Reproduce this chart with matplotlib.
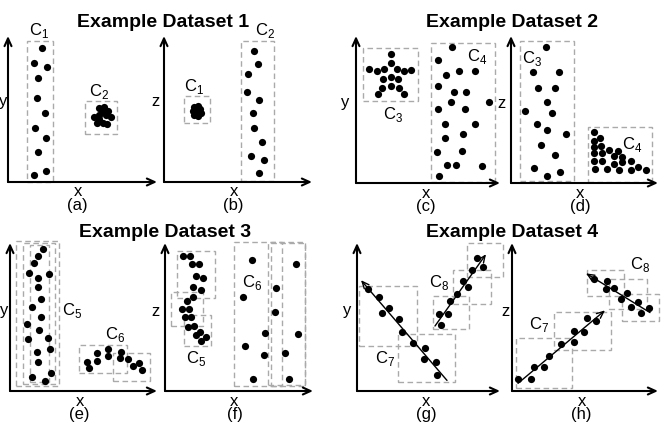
import numpy as np
import matplotlib.pyplot as plt
from matplotlib.patches import Rectangle

plt.rcParams['font.family'] = ['Liberation Sans', 'DejaVu Sans']
plt.rcParams['mathtext.fontset'] = 'custom'
plt.rcParams['mathtext.rm'] = 'Liberation Sans'

W, H = 663, 426

# --- Example Dataset 1 ---
a_c1_x = [34, 26, 39, 30, 29, 37, 27, 38, 30, 38, 26]
a_c1_y = [134, 119, 115, 104, 84, 69, 54, 44, 30, 11, 7]
a_c2_x = [91, 96, 100, 86, 91, 98, 103, 89, 95, 99, 94, 91]
a_c2_y = [74, 75, 71, 65, 67, 67, 65, 59, 59, 58, 70, 63]

b_c1_x = [30, 34, 36, 29, 33, 37, 30, 34, 35, 31]
b_c1_y = [75, 76, 73, 71, 71, 69, 67, 66, 70, 73]
b_c2_x = [90, 94, 84, 83, 95, 89, 90, 98, 87, 100, 95]
b_c2_y = [131, 118, 108, 90, 82, 69, 54, 40, 26, 22, 9]

# --- Example Dataset 2 ---
c_c3_x = [35, 35, 13, 21, 28, 41, 48, 55, 27, 35, 42, 26, 35, 43, 22, 48]
c_c3_y = [129, 120, 114, 112, 114, 114, 112, 113, 104, 106, 104, 95, 97, 95, 89, 89]
c_c4_x = [96, 82, 103, 119, 90, 82, 98, 110, 95, 133, 82, 109, 89, 119, 89, 107,
          81, 106, 91, 100, 126, 83]
c_c4_y = [136, 123, 112, 112, 108, 97, 91, 91, 81, 81, 74, 74, 59, 59, 45, 49,
          31, 32, 18, 18, 17, 7]

d_c3_x = [35, 22, 48, 27, 44, 36, 14, 41, 26, 36, 55, 30, 44, 23, 49, 36]
d_c3_y = [136, 111, 111, 95, 95, 81, 72, 70, 59, 53, 49, 38, 28, 15, 11, 7]
d_c4_x = [83, 83, 89, 83, 90, 83, 91, 98, 107, 83, 91, 103, 111, 84, 96, 103,
          111, 120, 127, 135, 108, 120]
d_c4_y = [51, 42, 45, 36, 37, 30, 30, 33, 32, 22, 22, 27, 26, 14, 14, 19,
          21, 22, 16, 13, 13, 13]

# --- Example Dataset 3 ---
e_c5_x = [33, 28, 24, 19, 39, 28, 28, 31, 22, 31, 17, 29, 18, 38, 27, 40, 28, 22, 35, 41]
e_c5_y = [142, 135, 128, 118, 117, 113, 104, 92, 84, 74, 67, 61, 52, 53, 39, 42, 29, 14, 10, 18]
e_c6_x = [77, 79, 87, 87, 98, 98, 111, 110, 118, 123, 129, 132]
e_c6_y = [29, 23, 38, 30, 42, 35, 39, 33, 32, 25, 28, 21]

f_c5_x = [18, 25, 27, 34, 31, 38, 28, 36, 28, 22, 17, 24, 20, 26, 23, 29, 31, 35, 41, 36]
f_c5_y = [135, 135, 127, 127, 115, 113, 104, 101, 94, 90, 82, 82, 74, 74, 64, 65, 56, 59, 54, 50]
f_c6_x = [87, 131, 111, 78, 110, 100, 133, 80, 99, 120, 88, 124]
f_c6_y = [131, 127, 103, 94, 79, 58, 57, 45, 36, 38, 12, 12]

# --- Example Dataset 4 ---
g_c7_x = [11, 22, 32, 25, 42, 45, 56, 68, 67, 79, 80]
g_c7_y = [102, 94, 83, 78, 72, 59, 48, 43, 32, 29, 16]
g_c8_x = [84, 82, 91, 93, 100, 106, 111, 115, 120, 126]
g_c8_y = [66, 77, 77, 90, 97, 110, 104, 121, 133, 124]

h_c7_x = [6, 19, 22, 32, 37, 49, 62, 62, 72, 75, 84]
h_c7_y = [12, 12, 24, 24, 35, 47, 49, 60, 59, 73, 70]
h_c8_x = [82, 95, 94, 102, 109, 115, 119, 126, 129, 137]
h_c8_y = [112, 110, 102, 103, 92, 98, 84, 89, 78, 83]

fig = plt.figure(figsize=(W / 100, H / 100), dpi=100)

AXIS_ARROW = dict(arrowstyle='->,head_length=0.55,head_width=0.25', lw=1.5,
                  color='black', shrinkA=0, shrinkB=0)
FIT_ARROW = dict(arrowstyle='->,head_length=0.5,head_width=0.22', lw=1.0,
                 color='black', shrinkA=0, shrinkB=0)


def make_panel(ox, oy, w, h, xlab, ylab, tag, ylab_x=-9):
    ax = fig.add_axes([ox / W, (H - oy) / H, w / W, h / H])
    ax.set_xlim(0, w)
    ax.set_ylim(0, h)
    ax.axis('off')
    ax.annotate('', xy=(w, 0), xytext=(0, 0), arrowprops=AXIS_ARROW, annotation_clip=False)
    ax.annotate('', xy=(0, h), xytext=(0, 0), arrowprops=AXIS_ARROW, annotation_clip=False)
    ax.text(69.5, -10, xlab, ha='center', va='center', fontsize=12)
    ax.text(ylab_x, 80, ylab, ha='center', va='center', fontsize=12)
    ax.text(69.5, -24, tag, ha='center', va='center', fontsize=12)
    return ax


def dots(ax, x, y):
    ax.scatter(x, y, s=27, c='black', linewidths=0, clip_on=False, zorder=3)


def box(ax, x, y, w, h):
    ax.add_patch(Rectangle((x, y), w, h, fill=False, ec='#aaaaaa', lw=1.0,
                           ls=(0, (4, 2.5)), clip_on=False, zorder=2))


def label(ax, x, y, n):
    ax.text(x, y, 'C$_\\mathregular{%d}$' % n, ha='center', va='center', fontsize=12)


def fit_arrow(ax, x, y, x0, x1):
    k, b = np.polyfit(x, y, 1)
    ax.annotate('', xy=(x1, k * x1 + b), xytext=(x0, k * x0 + b),
                arrowprops=FIT_ARROW, annotation_clip=False)


# (a)
ax = make_panel(8, 182, 149, 146, 'x', 'y', '(a)', ylab_x=-4.5)
box(ax, 19, 0, 26, 141)
box(ax, 77, 48, 32, 33)
dots(ax, a_c1_x, a_c1_y)
dots(ax, a_c2_x, a_c2_y)
label(ax, 31.5, 151, 1)
label(ax, 91, 90, 2)

# (b)
ax = make_panel(164, 182, 148, 146, 'x', 'z', '(b)')
box(ax, 20, 59, 26, 27)
box(ax, 77, 1, 33, 140)
dots(ax, b_c1_x, b_c1_y)
dots(ax, b_c2_x, b_c2_y)
label(ax, 30, 95, 1)
label(ax, 101, 151, 2)

# (c)
ax = make_panel(356, 183, 144, 147, 'x', 'y', '(c)', ylab_x=-10.5)
box(ax, 7, 82, 55, 53)
box(ax, 75, 1, 64, 139)
dots(ax, c_c3_x, c_c3_y)
dots(ax, c_c4_x, c_c4_y)
label(ax, 37, 68.5, 3)
label(ax, 121, 126, 4)

# (d)
ax = make_panel(511, 183, 147, 147, 'x', 'z', '(d)')
box(ax, 9, 2, 54, 140)
box(ax, 77, 1, 64, 55)
dots(ax, d_c3_x, d_c3_y)
dots(ax, d_c4_x, d_c4_y)
label(ax, 21.5, 125, 3)
label(ax, 121, 39, 4)

# (e)
ax = make_panel(10, 391, 147, 148, 'x', 'y', '(e)', ylab_x=-6)
box(ax, 6, 5, 43, 145)
box(ax, 13, 7, 32, 141)
box(ax, 20, 9, 19, 137)
box(ax, 69, 18, 48, 28)
box(ax, 103, 10, 37, 28)
dots(ax, e_c5_x, e_c5_y)
dots(ax, e_c6_x, e_c6_y)
label(ax, 62.5, 80, 5)
label(ax, 105, 57, 6)

# (f)
ax = make_panel(165, 391, 148, 148, 'x', 'z', '(f)')
box(ax, 12, 93, 38, 47)
box(ax, 6, 65, 32, 34)
box(ax, 19, 45, 27, 31)
box(ax, 69, 5, 48, 144)
box(ax, 103, 6, 37, 142)
box(ax, 106, 5, 34, 144)
dots(ax, f_c5_x, f_c5_y)
dots(ax, f_c6_x, f_c6_y)
label(ax, 31, 32, 5)
label(ax, 87.5, 109, 6)

# (g)
ax = make_panel(357, 391, 143, 148, 'x', 'y', '(g)', ylab_x=-10)
box(ax, 2, 45, 58, 60)
box(ax, 41, 9, 57, 48)
box(ax, 76, 62, 36, 33)
box(ax, 96, 87, 38, 34)
box(ax, 110, 114, 36, 34)
dots(ax, g_c7_x, g_c7_y)
dots(ax, g_c8_x, g_c8_y)
fit_arrow(ax, g_c7_x, g_c7_y, 90, 4)
fit_arrow(ax, g_c8_x, g_c8_y, 78, 129)
label(ax, 28, 33, 7)
label(ax, 82, 109, 8)

# (h)
ax = make_panel(512, 391, 146, 148, 'x', 'z', '(h)', ylab_x=-7)
box(ax, 4, 3, 56, 50)
box(ax, 42, 41, 57, 38)
box(ax, 75, 95, 37, 26)
box(ax, 97, 82, 38, 30)
box(ax, 110, 70, 37, 27)
dots(ax, h_c7_x, h_c7_y)
dots(ax, h_c8_x, h_c8_y)
fit_arrow(ax, h_c7_x, h_c7_y, 6, 93)
fit_arrow(ax, h_c8_x, h_c8_y, 138, 74)
label(ax, 27, 66, 7)
label(ax, 128, 126, 8)

# titles
for cx, by, txt in [(163.5, 26.7, 'Example Dataset 1'), (512, 27, 'Example Dataset 2'),
                    (165, 237, 'Example Dataset 3'), (512.5, 237, 'Example Dataset 4')]:
    fig.text(cx / W, 1 - by / H, txt, ha='center', va='baseline',
             fontsize=14, fontweight='bold')

fig.savefig('out.png', dpi=100)
